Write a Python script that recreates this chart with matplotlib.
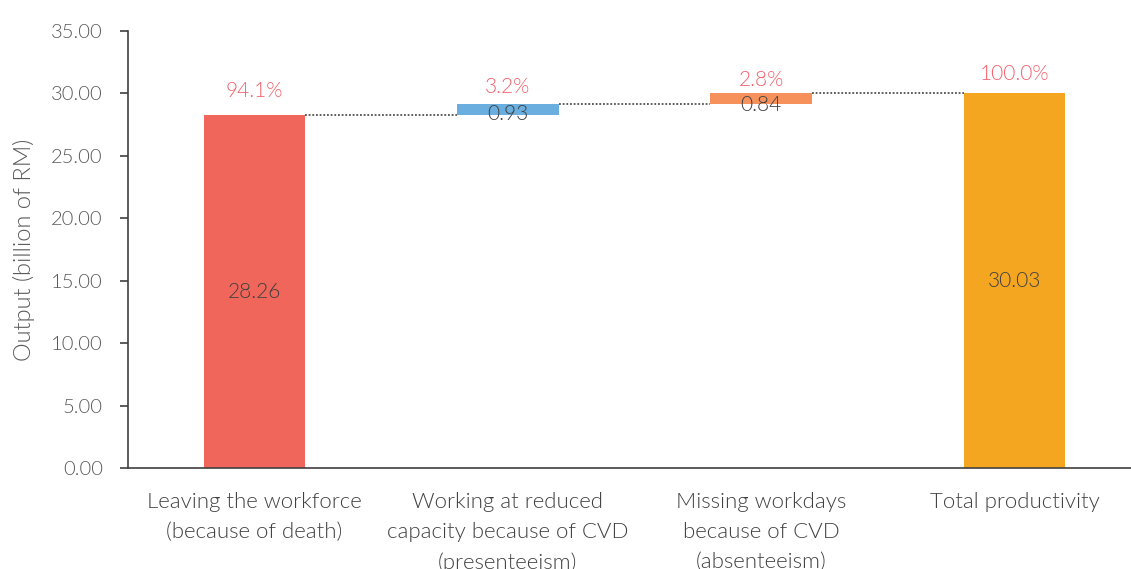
import matplotlib
matplotlib.use("Agg")
import matplotlib.pyplot as plt
from matplotlib.ticker import FormatStrFormatter

categories = ["Leaving the workforce\n(because of death)",
              "Working at reduced\ncapacity because of CVD\n(presenteeism)",
              "Missing workdays\nbecause of CVD\n(absenteeism)",
              "Total productivity"]
values = [28.26, 0.93, 0.84, 30.03]
pct_labels = ["94.1%", "3.2%", "2.8%", "100.0%"]
value_labels = ["28.26", "0.93", "0.84", "30.03"]
colors = ["#F0665B", "#69AEDF", "#F6915C", "#F5A620"]

# label offsets (points) – styling only
pct_offsets = [17.3, 12.2, 9.7, 14.0]
val_offsets = [0, -3.6, -5.0, 0]

plt.rcParams['font.family'] = ['Lato', 'DejaVu Sans']
plt.rcParams['font.weight'] = 300

W, H = 1131, 569
fig = plt.figure(figsize=(W / 100, H / 100), dpi=100)
left_px, right_px = 128, 1141
top_px, bot_px = 31, 468
ax = fig.add_axes([left_px / W, 1 - bot_px / H, (right_px - left_px) / W, (bot_px - top_px) / H])

# waterfall bottoms
bottoms = [0, values[0], values[0] + values[1], 0]
bw = 0.4
xs = list(range(len(values)))
ax.bar(xs, values, bottom=bottoms, width=bw, color=colors, zorder=2)

# connectors
tops = [b + v for b, v in zip(bottoms, values)]
for i in range(len(values) - 1):
    ax.plot([xs[i] + bw / 2, xs[i + 1] - bw / 2], [tops[i], tops[i]],
            ls=(0, (1.2, 1.2)), color="#333333", lw=1.1, zorder=1)

# labels
for i, (b, v) in enumerate(zip(bottoms, values)):
    ax.annotate(pct_labels[i], (xs[i], b + v), xytext=(0, pct_offsets[i]), textcoords="offset points",
                ha="center", va="center", color="#F2616C", fontsize=15, fontweight=300)
    ax.annotate(value_labels[i], (xs[i], b + v / 2), xytext=(0, val_offsets[i]), textcoords="offset points",
                ha="center", va="center", color="#404040", fontsize=15, fontweight=300)

ax.set_xlim(-0.5, 3.5)
ax.set_ylim(0, 35)
ax.set_yticks([0, 5, 10, 15, 20, 25, 30, 35])
ax.yaxis.set_major_formatter(FormatStrFormatter("%.2f"))
ax.set_xticks(xs)
ax.set_xticklabels(categories, fontsize=16, color="#404040", linespacing=1.62, fontweight=300)
ax.tick_params(axis='y', labelsize=14.5, labelcolor="#595959", color="#404040", length=6, width=1.2, pad=12)
ax.tick_params(axis='x', length=0, pad=17.5)
for lab in ax.get_yticklabels():
    lab.set_fontweight(300)
for s in ["top", "right"]:
    ax.spines[s].set_visible(False)
for s in ["left", "bottom"]:
    ax.spines[s].set_color("#404040")
    ax.spines[s].set_linewidth(1.2)
ax.set_ylabel("Output (billion of RM)", fontsize=17, color="#595959", labelpad=12, fontweight=300)

fig.savefig("out.png", dpi=100)
